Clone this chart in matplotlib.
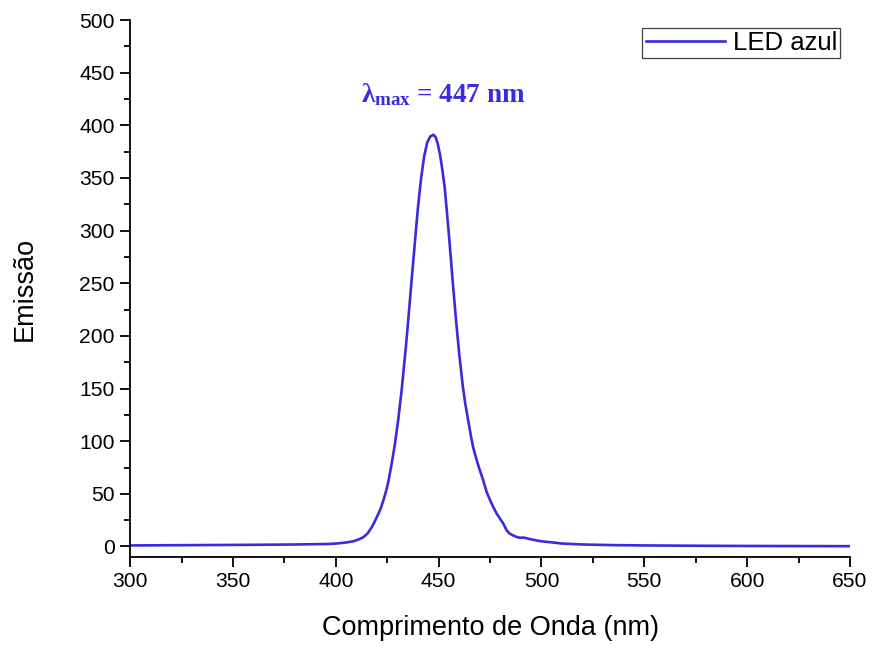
import numpy as np
import matplotlib
matplotlib.use('Agg')
from matplotlib import pyplot as plt

plt.rcParams['font.family'] = ['Liberation Sans', 'DejaVu Sans']
plt.rcParams['mathtext.fontset'] = 'custom'
plt.rcParams['mathtext.rm'] = 'Liberation Serif:bold'
plt.rcParams['mathtext.it'] = 'Liberation Serif:bold'
plt.rcParams['mathtext.bf'] = 'Liberation Serif:bold'

line_colour = '#3a2bdc'

# emission spectrum (nm, counts)
wavelength = [300, 320, 340, 360, 380, 397, 402, 405, 408.6, 411, 413.4, 415.5, 417.5,
              419, 420.7, 422, 423.1, 424.5, 425.6, 427.2, 428.8, 430.4, 432.1, 433,
              434, 435, 436, 437, 438.5, 440, 441.5, 443, 444.5, 446, 447.4, 448.5,
              449.5, 450.7, 452, 453, 454, 455, 456, 457, 458.5, 460, 461.7, 463,
              464.4, 465.5, 466.8, 468.5, 470.1, 471.8, 473.4, 475, 476.6, 478.3,
              479.9, 481.5, 483.1, 484.5, 486.3, 488, 489.6, 491, 492, 494, 497.7,
              500, 504.2, 510, 520, 535, 550, 575, 600, 625, 650]
emission = [1.0, 1.2, 1.4, 1.6, 1.9, 2.4, 3.1, 3.8, 5.0, 6.6, 8.8, 12.5, 18.3,
            24, 31, 37, 43.6, 53, 62, 79, 98, 121, 150, 168,
            188, 210, 233, 256, 290, 323, 350, 371, 384, 389.5, 391, 389,
            383, 372, 355, 340, 318, 296, 272, 248, 214, 183, 153, 135,
            119.5, 107, 94, 82, 72, 62, 51.5, 44, 37.3, 31,
            26.3, 21.5, 15.2, 12.3, 10.4, 9.0, 8.2, 8.5, 8.2, 7.2, 5.7,
            4.9, 4.1, 2.8, 1.9, 1.3, 1.0, 0.7, 0.5, 0.4, 0.3]

peak_label = r'$\lambda_{\mathrm{max}}$ = 447 nm'

fig = plt.figure(figsize=(8.73, 6.48), dpi=100)
ax = fig.add_axes([0.149, 0.1404, 0.8247, 0.8287])

ax.plot(wavelength, emission, color=line_colour, linewidth=1.9, label='LED azul')

ax.set_xlim(300, 650)
ax.set_ylim(-10, 500)
ax.set_xticks(np.arange(300, 651, 50))
ax.set_yticks(np.arange(0, 501, 50))
ax.set_xticks(np.arange(325, 650, 50), minor=True)
ax.set_yticks(np.arange(25, 500, 50), minor=True)

ax.spines['top'].set_visible(False)
ax.spines['right'].set_visible(False)
ax.spines['left'].set_linewidth(1.3)
ax.spines['bottom'].set_linewidth(1.3)
ax.tick_params(which='major', direction='out', length=7, width=1.3, labelsize=15.2, pad=4)
ax.tick_params(which='minor', direction='out', length=4, width=1.3)

ax.set_xlabel('Comprimento de Onda (nm)', fontsize=19.5, labelpad=17)
ax.set_ylabel('Emissão', fontsize=19.5, labelpad=30)

ax.text(452, 429, peak_label, color=line_colour, fontsize=19.5,
        fontfamily='Liberation Serif', fontweight='bold', ha='center', va='center')

leg = ax.legend(loc='upper right', bbox_to_anchor=(0.9865, 0.985), fontsize=18.5,
                handlelength=3.1, handletextpad=0.3, borderpad=0.12,
                fancybox=False, framealpha=1, borderaxespad=0)
leg.get_frame().set_edgecolor('#404040')
leg.get_frame().set_linewidth(0.9)

fig.savefig('out.png', dpi=100)
